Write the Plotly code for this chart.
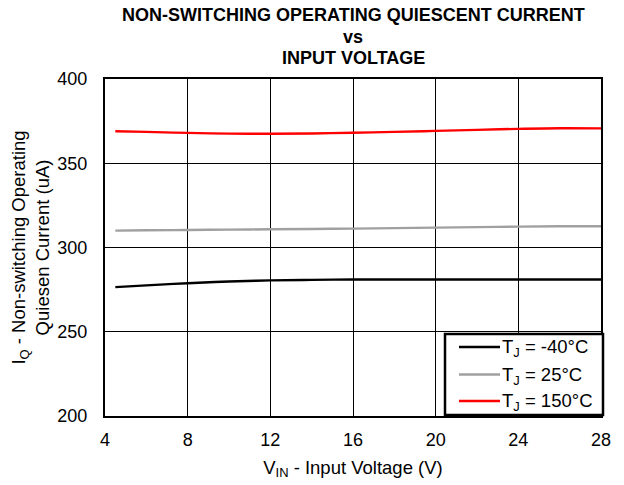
import plotly.graph_objects as go

vin = [4.5, 6, 8, 10, 12, 14, 16, 18, 20, 22, 24, 26, 28]
iq_m40 = [276.5, 277.5, 278.8, 279.8, 280.5, 280.8, 281.0, 281.0, 281.0, 281.0, 281.0, 281.0, 281.0]
iq_25 = [310.0, 310.2, 310.4, 310.6, 310.8, 311.0, 311.2, 311.5, 311.8, 312.1, 312.4, 312.6, 312.6]
iq_150 = [369.0, 368.6, 368.0, 367.6, 367.5, 367.7, 368.1, 368.6, 369.2, 369.8, 370.4, 370.8, 370.7]
names = ["T<sub>J</sub> = -40°C", "T<sub>J</sub> = 25°C", "T<sub>J</sub> = 150°C"]
colors = ["#000000", "#a0a0a0", "#ff0000"]
x_ticks = [4, 8, 12, 16, 20, 24, 28]
y_ticks = [200, 250, 300, 350, 400]

font = "Liberation Sans, Arial, sans-serif"

# plot-area geometry in page pixels (page has an 8px body margin)
PL, PR, PT, PB = 105, 601, 79, 416


def px(xp):
    return (xp - PL) / (PR - PL)


def py(yp):
    return (PB - yp) / (PB - PT)


fig = go.Figure()
for ys, n, c in zip([iq_m40, iq_25, iq_150], names, colors):
    fig.add_trace(go.Scatter(x=vin, y=ys, mode="lines", name=n, showlegend=False,
                             line=dict(color=c, width=2.4, shape="spline")))

fig.update_layout(
    width=616, height=477,
    margin=dict(l=97, r=23, t=71, b=69),
    paper_bgcolor="white", plot_bgcolor="white",
    font=dict(family=font, size=18, color="black"),
    showlegend=False,
    xaxis=dict(range=[4, 28], tickvals=x_ticks, showgrid=True, gridcolor="black",
               gridwidth=1, showline=True, linecolor="black", linewidth=2, mirror=True,
               zeroline=False, ticks="", ticklen=0, automargin=False, ticklabelstandoff=6,
               tickfont=dict(size=18),
               title=dict(text="V<sub>IN</sub> - Input Voltage (V)", font=dict(size=18.5), standoff=12)),
    yaxis=dict(range=[200, 400], tickvals=y_ticks, showgrid=True, gridcolor="black",
               gridwidth=1, showline=True, linecolor="black", linewidth=2, mirror=True,
               zeroline=False, ticks="", ticklen=0, automargin=False, ticklabelstandoff=12,
               tickfont=dict(size=18),
               title=dict(text="I<sub>Q</sub> - Non-switching Operating<br>Quiesen Current (uA)",
                          font=dict(size=18.5), standoff=8)),
)

# legend box (drawn over the grid)
fig.add_shape(type="rect", xref="paper", yref="paper",
              x0=px(445), x1=px(603), y0=py(415), y1=py(334),
              line=dict(color="black", width=2.5), fillcolor="white", layer="above")
row_y = [347, 374.5, 401]
for n, c, ry in zip(names, colors, row_y):
    fig.add_shape(type="line", xref="paper", yref="paper",
                  x0=px(459), x1=px(500), y0=py(ry), y1=py(ry),
                  line=dict(color=c, width=2.4), layer="above")
    fig.add_annotation(text=n, xref="paper", yref="paper", x=px(500), y=py(ry + 1),
                       xanchor="left", yanchor="middle", showarrow=False,
                       font=dict(size=18.5, family=font))

title_lines = ["NON-SWITCHING OPERATING QUIESCENT CURRENT", "vs", "INPUT VOLTAGE"]
title_y = [15, 37, 58]
for t, yy in zip(title_lines, title_y):
    fig.add_annotation(text="<b>" + t + "</b>", xref="paper", yref="paper",
                       x=0.5, y=py(yy), yanchor="middle", xanchor="center",
                       showarrow=False, font=dict(size=18, family=font))

fig.write_html("out.html")
